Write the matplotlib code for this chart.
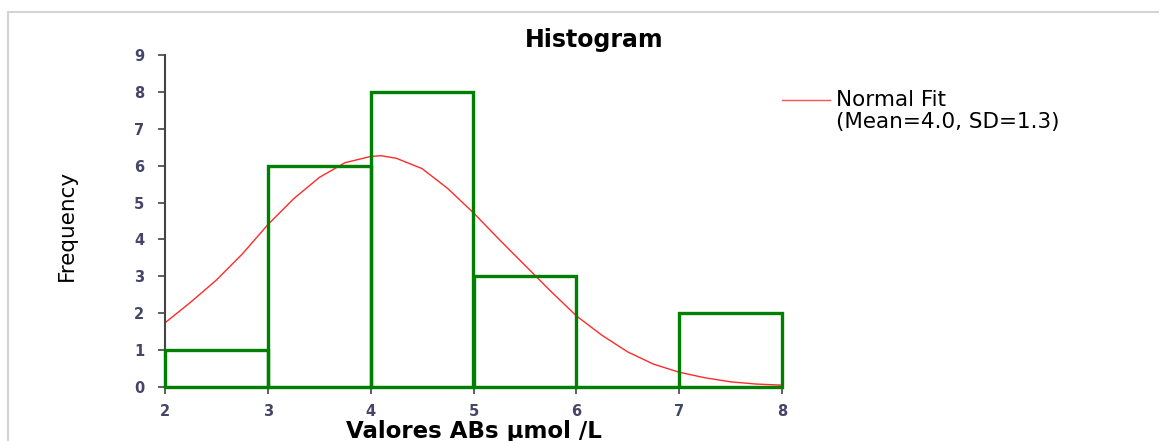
import matplotlib.pyplot as plt
from matplotlib.patches import Rectangle
from matplotlib.lines import Line2D

# histogram data
bin_edges = [2, 3, 4, 5, 6, 7, 8]
counts = [1, 6, 8, 3, 0, 2]

# normal fit curve
fit_x = [2.0, 2.25, 2.5, 2.75, 3.0, 3.25, 3.5, 3.75, 4.0, 4.1, 4.25, 4.5, 4.75,
         5.0, 5.25, 5.5, 5.75, 6.0, 6.25, 6.5, 6.75, 7.0, 7.25, 7.5, 7.75, 8.0]
fit_y = [1.74, 2.3, 2.9, 3.6, 4.4, 5.1, 5.68, 6.08, 6.25, 6.27, 6.2, 5.92, 5.38,
         4.72, 4.0, 3.3, 2.6, 1.93, 1.4, 0.95, 0.62, 0.40, 0.25, 0.14, 0.08, 0.05]

y_ticks = list(range(0, 10))
x_ticks = list(range(2, 9))

plt.rcParams['font.family'] = ['DejaVu Sans']

W, H = 1159, 441
fig = plt.figure(figsize=(W / 100, H / 100), dpi=100)
ax = fig.add_axes([165 / W, 1 - 387 / H, (782 - 165) / W, (387 - 55) / H])

# outer frame (cut off at right and bottom)
fig.add_artist(Rectangle((8 / W, -0.1), 1.2, 1 - 12 / H + 0.1, transform=fig.transFigure,
                         fill=False, edgecolor='#d4d4d4', linewidth=1.5))

ax.plot(fit_x, fit_y, color='#ff2a2a', linewidth=1.0, zorder=2)
ax.bar(bin_edges[:-1], counts, width=1, align='edge', fill=False,
       edgecolor='#008000', linewidth=2.4, clip_on=False, zorder=3)

ax.set_xlim(2, 8)
ax.set_ylim(0, 9)
ax.set_xticks(x_ticks)
ax.set_yticks(y_ticks)
for side in ['top', 'right']:
    ax.spines[side].set_visible(False)
for side in ['left', 'bottom']:
    ax.spines[side].set_color('#444444')
    ax.spines[side].set_linewidth(1.5)
ax.tick_params(direction='out', length=5, width=1.2, color='#444444',
               labelsize=10.5, labelcolor='#45456a')
ax.tick_params(axis='y', pad=10)
ax.tick_params(axis='x', pad=7)
for lbl in ax.get_xticklabels() + ax.get_yticklabels():
    lbl.set_fontweight('bold')

ax.set_xlabel('Valores ABs µmol /L', fontsize=16.5, fontweight='bold', labelpad=1)
fig.text(67 / W, 1 - 225 / H, 'Frequency', rotation=90, ha='center', va='center',
         fontsize=15.5, fontweight='medium')
fig.text(594 / W, 1 - 40 / H, 'Histogram', ha='center', va='center',
         fontsize=17, fontweight='bold')

# legend
fig.add_artist(Line2D([782 / W, 830 / W], [1 - 100 / H, 1 - 100 / H],
                      transform=fig.transFigure, color='#ff5050', linewidth=1.0))
fig.text(836 / W, 1 - 100 / H, 'Normal Fit', ha='left', va='center', fontsize=15.5)
fig.text(836 / W, 1 - 122 / H, '(Mean=4.0, SD=1.3)', ha='left', va='center', fontsize=15.5)

fig.savefig('out.png', dpi=100)
